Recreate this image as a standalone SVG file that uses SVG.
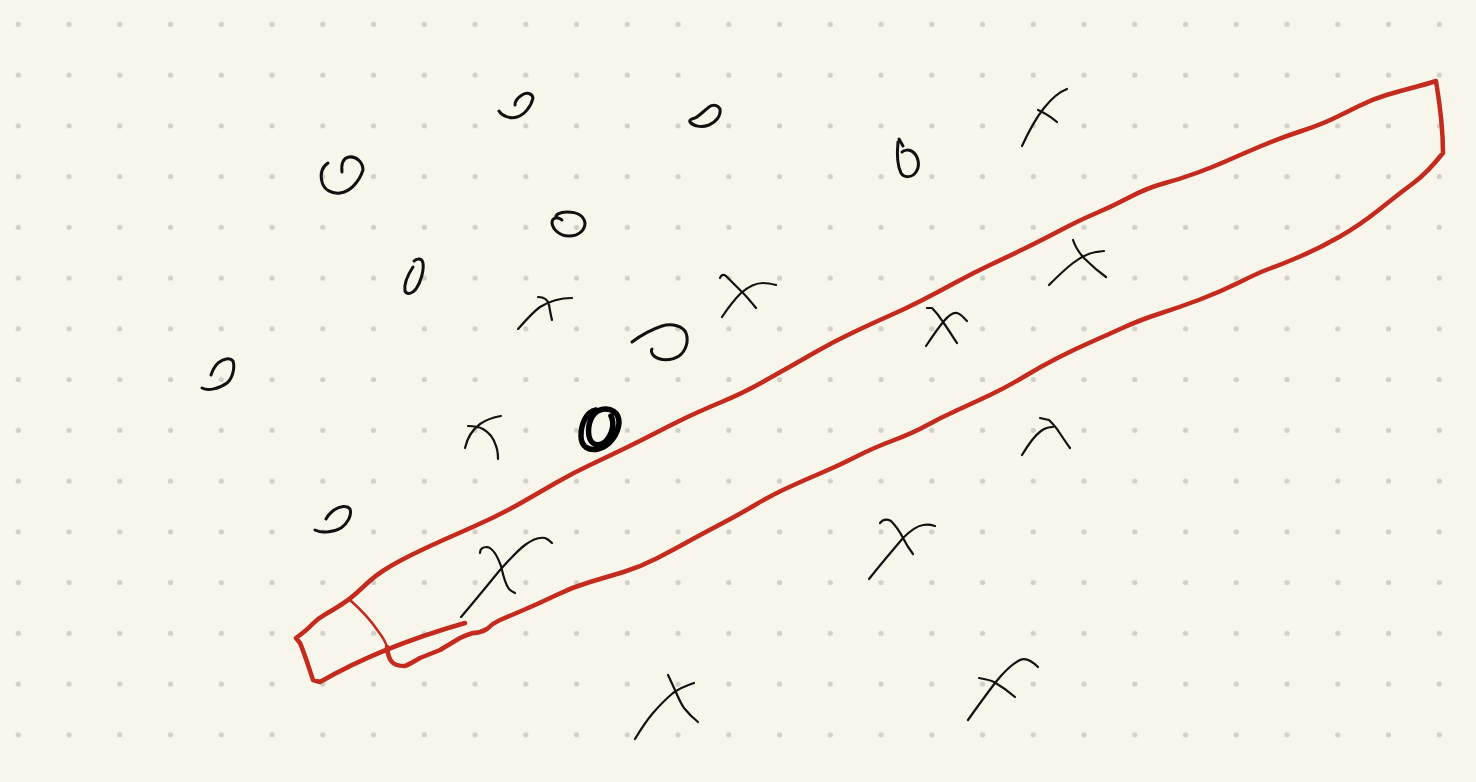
<svg xmlns="http://www.w3.org/2000/svg" width="1476" height="782" viewBox="0 0 1476 782">
<defs>
<pattern id="dots" patternUnits="userSpaceOnUse" x="-7.075" y="-1.075" width="50.75" height="50.75">
<circle cx="25.375" cy="25.375" r="2.6" fill="#d1cfc6"/>
</pattern>
<style>
.red{fill:none;stroke:#c42a1e;stroke-width:4.5;stroke-linejoin:round;stroke-linecap:round}
.redthin{fill:none;stroke:#c42a1e;stroke-width:2.5;stroke-linecap:round;stroke-linejoin:round}
.o{fill:none;stroke:#111;stroke-width:3;stroke-linecap:round;stroke-linejoin:round}
.x{fill:none;stroke:#111;stroke-width:2.2;stroke-linecap:round;stroke-linejoin:round}
.bold{fill:none;stroke:#000;stroke-width:5.5;stroke-linecap:round}
</style>
</defs>
<rect width="1476" height="782" fill="#f8f6eb"/>
<rect width="1476" height="782" fill="url(#dots)"/>

<g id="band">
<path class="red" d="M465,623 C430,633 370,653 320,682 L313,680 C309,668 304,652 300,643 L296,638 Q307,630 312,624.5 Q317,619 325,614.5 Q333,610 341.5,604.5 Q350,599 356,593.5 Q362,588 368.5,582 Q375,576 383.5,570.5 Q392,565 402.5,559.5 Q413,554 428,547 Q443,540 458,533.5 Q473,527 490,519 Q507,511 523.5,501.5 Q540,492 556.5,482.5 Q573,473 590,465 Q607,457 623.5,449 Q640,441 656.5,432.5 Q673,424 686.5,417.5 Q700,411 721.5,402 Q743,393 760,383.5 Q777,374 788.5,367.5 Q800,361 816.5,351.5 Q833,342 853,332.5 Q873,323 890,315.5 Q907,308 923.5,299.5 Q940,291 956.5,282 Q973,273 990,265 Q1007,257 1023.5,249 Q1040,241 1060,230.5 Q1080,220 1096.5,213 Q1113,206 1130,197 Q1147,188 1163.5,183.5 Q1180,179 1196.5,173 Q1213,167 1226.5,161 Q1240,155 1260,146.5 Q1280,138 1300,131.5 Q1320,125 1333.5,118.5 Q1347,112 1360,105.5 Q1373,99 1386.5,95 Q1400,91 1413.5,87.5 Q1427,84 1436,81 C1440,105 1443,128 1443,153 Q1427,173 1413.5,183 Q1400,193 1380,209 Q1360,225 1340,236.5 Q1320,248 1300,256.5 Q1280,265 1270,268.5 Q1260,272 1240,282 Q1220,292 1200,299.5 Q1180,307 1160,313.5 Q1140,320 1123.5,327.5 Q1107,335 1090,342.5 Q1073,350 1056.5,358.5 Q1040,367 1023.5,377 Q1007,387 990,395 Q973,403 956.5,410.5 Q940,418 926.5,425.5 Q913,433 893,440.5 Q873,448 856.5,456.5 Q840,465 820,473.5 Q800,482 785,489 Q770,496 755,505 Q740,514 720,524.5 Q700,535 686.5,542.5 Q673,550 656.5,558.5 Q640,567 623.5,572 Q607,577 590,582 Q573,587 556.5,595 Q540,603 523.5,610 Q507,617 500,620 Q493,623 487,629 Q480,633 473,633 Q466,635 460,638 Q450,644 440,650 Q430,654 420,658 Q410,664 405,666 Q395,666 392,662 Q388,658 387,647"/>
<path class="redthin" d="M350,600 Q368,616 378,631 Q385,640 387,647"/>
</g>

<g id="o-marks">
<path id="o1" class="o" d="M499,111 C502,116 510,119 517,117 C524,115 531,107 533,98 C532,93 527,92 522,95 C517,98 515,102 515,105"/>
<path id="o2" class="o" d="M328,163 C322,167 320,174 322,182 C324,190 332,194 340,193 C350,192 359,182 363,170 C363,162 356,156 349,157 C344,158 341,163 342,172"/>
<path id="o3" class="o" d="M562,220 C556,216 552,218 552,223 C553,230 560,236 569,236 C579,236 585,230 585,223 C584,216 577,212 567,212 C559,212 555,215 556,218"/>
<path id="o4" class="o" d="M413,267 C407,276 404,285 405,291 C407,295 412,294 416,289 C421,282 424,270 423,263 C422,258 417,258 414,261"/>
<path id="o5" class="o" d="M202,388 C208,391 219,389 227,383 C233,378 235,367 233,361 C230,357 223,359 218,363 C214,367 212,372 211,375"/>
<path id="o6" class="o" d="M690,122 C693,126 701,128 709,125 C716,122 721,116 720,109 C718,105 713,104 709,107 C704,111 699,116 695,118 C691,119 689,120 690,122"/>
<path id="o7" class="o" d="M899,139 L903,146 M898,142 C897,152 897,165 901,173 C904,178 912,178 916,172 C920,166 919,157 913,152 C909,149 904,150 902,152"/>
<path id="o8" class="o" d="M632,342 C640,336 650,330 662,326 C672,323 683,326 686,333 C689,341 686,351 679,356 C671,361 660,361 654,356 C651,353 651,350 652,349"/>
<path id="o9" class="bold" d="M596,410 C586,412 581,424 581,436 C581,447 589,451 598,449 C610,446 618,434 619,423 C619,412 611,407 600,410 C592,413 587,424 589,436 C591,445 598,447 605,442 C612,435 615,424 611,416"/>
<path id="o10" class="o" d="M315,530 C321,533 332,533 341,528 C348,523 352,515 350,509 C347,505 340,506 334,510 C329,514 327,517 326,519"/>
</g>

<g id="x-marks">
<path id="x1" class="x" d="M1022,146 C1028,133 1036,118 1044,108 C1052,98 1059,92 1067,89 M1038,110 C1045,113 1051,117 1057,122"/>
<path id="x2" class="x" d="M518,329 C526,320 533,312 540,307 C548,302 558,298 572,298 M538,297 C545,297 548,300 549,305 C550,311 551,316 552,320"/>
<path id="x3" class="x" d="M720,278 C721,275 723,274 726,276 C732,282 738,288 743,293 C748,298 752,303 756,308 M722,317 C728,308 734,300 741,293 C748,287 755,283 763,283 C768,283 772,284 776,285"/>
<path id="x4" class="x" d="M1073,240 C1075,246 1079,253 1085,259 C1092,266 1099,272 1106,277 M1049,285 C1056,278 1064,270 1073,263 C1081,257 1089,253 1096,252 C1099,252 1101,251 1104,251"/>
<path id="x5" class="x" d="M927,308 L932,308 C936,312 940,317 943,322 C948,329 953,337 957,343 M926,346 C932,337 938,328 944,321 C949,315 953,312 957,313 C961,314 964,318 967,321"/>
<path id="x6" class="x" d="M1022,455 C1028,445 1034,436 1041,431 C1045,428 1050,427 1053,427 M1040,418 L1049,420 C1053,424 1056,427 1059,432 C1063,438 1067,444 1070,448"/>
<path id="x7" class="x" d="M465,448 C467,439 472,430 480,424 C487,419 495,417 501,416 M468,426 C474,426 479,427 483,429 C490,433 494,439 496,446 C498,451 498,456 498,459"/>
<path id="x8" class="x" d="M461,617 C473,603 486,587 500,570 C509,560 517,551 525,545 C533,539 540,537 545,538 C548,539 550,541 552,543 M480,553 C480,549 483,547 487,547 C493,548 497,555 501,566 C503,575 505,584 509,589 C511,591 513,592 515,593"/>
<path id="x9" class="x" d="M869,579 C880,565 892,551 903,538 C910,531 917,526 923,525 C928,524 932,525 935,526 M880,523 C883,519 887,519 891,521 C895,525 900,532 903,538 C906,544 910,550 913,554"/>
<path id="x10" class="x" d="M968,720 C977,707 986,695 995,683 C1003,673 1012,664 1020,660 C1026,657 1033,662 1038,667 M979,678 C985,679 990,680 994,682 C1001,686 1008,691 1015,697"/>
<path id="x11" class="x" d="M635,739 C641,729 647,720 653,713 C660,705 667,698 673,693 C680,688 688,685 694,683 M668,675 C671,681 673,686 675,690 C678,697 680,702 684,708 C688,713 693,718 698,722"/>
</g>
</svg>
